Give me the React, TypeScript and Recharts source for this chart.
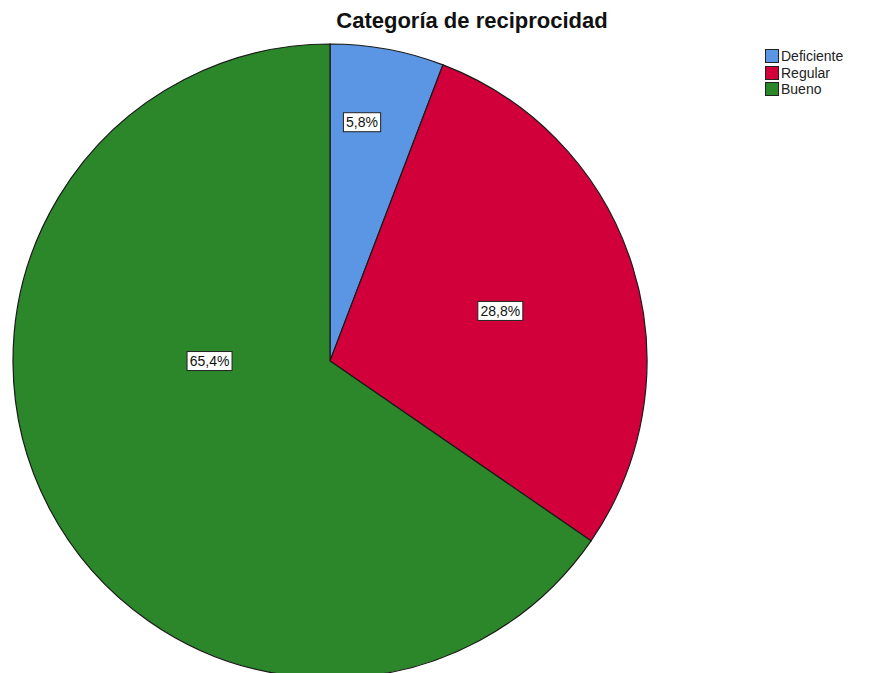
import { PieChart, Pie, Cell, Legend } from 'recharts'

const categorias = ['Deficiente', 'Regular', 'Bueno']
const porcentajes = [5.8, 28.8, 65.4]
const colores = ['#5A96E3', '#D2003A', '#2B872A']

// where each percentage box sits: fraction of the radius and a shift (deg) off the slice middle
const labelRadio = [0.76, 0.56, 0.38]
const labelGiro = [2.8, -0.9, -27.7]

const data = categorias.map((nombre, i) => ({ nombre, valor: porcentajes[i] }))

const RAD = Math.PI / 180
const FUENTE = "Arial, 'Liberation Sans', sans-serif"

const renderLabel = (props: any) => {
  const { cx, cy, midAngle, outerRadius, index, value } = props
  const ang = (midAngle + labelGiro[index]) * RAD
  const r = outerRadius * labelRadio[index]
  const x = cx + r * Math.cos(ang)
  const y = cy - r * Math.sin(ang)
  const texto = `${value.toFixed(1).replace('.', ',')}%`
  const w = texto.length * 7.8 + 6
  return (
    <g>
      <rect x={x - w / 2} y={y - 9.5} width={w} height={19} fill="#fff" stroke="#222" strokeWidth={1} />
      <text x={x} y={y + 5} textAnchor="middle" fontSize={14} fontFamily={FUENTE} fill="#111">
        {texto}
      </text>
    </g>
  )
}

const renderLegend = () => (
  <div style={{ fontFamily: FUENTE, fontSize: 14, lineHeight: '16px', color: '#222' }}>
    {categorias.map((c, i) => (
      <div key={c} style={{ display: 'flex', alignItems: 'center', height: 16.5 }}>
        <span style={{ width: 14, height: 14, background: colores[i], border: '1px solid #222', marginRight: 2, boxSizing: 'border-box' }} />
        <span>{c}</span>
      </div>
    ))}
  </div>
)

export default function App() {
  return (
    <div style={{ position: 'absolute', left: 0, top: 0, width: 869, height: 673, background: '#fff', overflow: 'hidden' }}>
      <div style={{ position: 'absolute', left: 0, width: 944, top: 8, textAlign: 'center', fontFamily: FUENTE, fontWeight: 'bold', fontSize: 22, color: '#111' }}>
        Categoría de reciprocidad
      </div>
      <PieChart width={869} height={673} margin={{ top: 0, right: 0, bottom: 0, left: 0 }}>
        <Pie
          data={data}
          dataKey="valor"
          nameKey="nombre"
          cx={330}
          cy={361}
          outerRadius={317}
          startAngle={90}
          endAngle={-270}
          stroke="#1a1a1a"
          strokeWidth={1.2}
          label={renderLabel}
          labelLine={false}
          isAnimationActive={false}
        >
          {data.map((d, i) => (
            <Cell key={d.nombre} fill={colores[i]} />
          ))}
        </Pie>
        <Legend content={renderLegend} layout="vertical" align="right" verticalAlign="top" wrapperStyle={{ left: 765, top: 48, width: 104 }} />
      </PieChart>
    </div>
  )
}
